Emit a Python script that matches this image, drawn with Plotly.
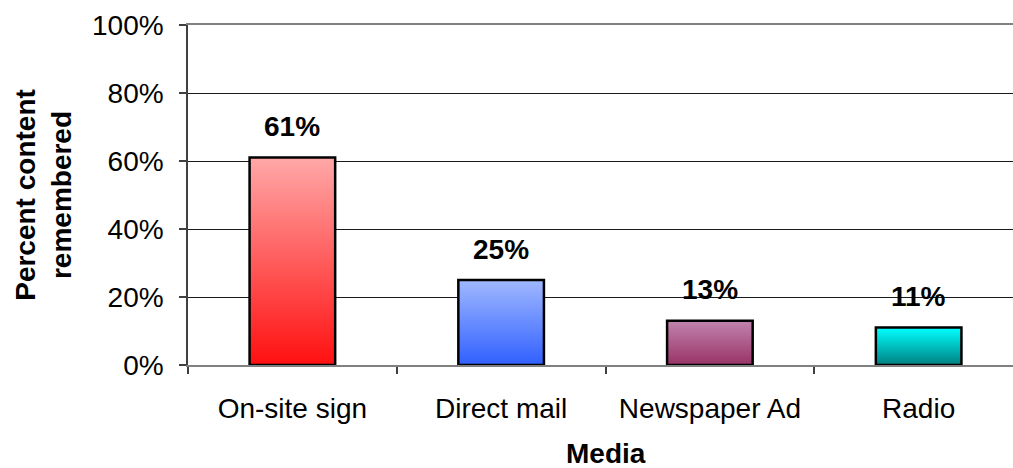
import plotly.graph_objects as go

categories = ["On-site sign", "Direct mail", "Newspaper Ad", "Radio"]
values = [61, 25, 13, 11]
value_labels = ["61%", "25%", "13%", "11%"]
top_colors = ["#FFA8A8", "#A0B8FF", "#C283AE", "#00FFFF"]
bottom_colors = ["#FF1010", "#3060FF", "#993366", "#008080"]
y_ticks = [0, 20, 40, 60, 80, 100]
y_tick_labels = ["0%", "20%", "40%", "60%", "80%", "100%"]
x_title = "Media"

FONT = "Liberation Sans, Arial, sans-serif"
bar_half = 0.205

fig = go.Figure()
for i, (cat, v) in enumerate(zip(categories, values)):
    xs = [i - bar_half, i - bar_half, i + bar_half, i + bar_half, i - bar_half]
    ys = [0, v, v, 0, 0]
    fig.add_trace(go.Scatter(
        x=xs, y=ys, mode="lines", fill="toself",
        fillgradient=dict(type="vertical",
                          colorscale=[[0, bottom_colors[i]], [1, top_colors[i]]]),
        line=dict(color="#000000", width=2.5),
        hoverinfo="skip", showlegend=False, name=cat,
    ))
    fig.add_annotation(x=i, y=v, text="<b>%s</b>" % value_labels[i],
                       showarrow=False, yshift=31, yanchor="middle",
                       font=dict(family=FONT, size=28, color="#000000"))

# x-axis title placed below the category labels
fig.add_annotation(x=0.5 * (-0.5 + 3.5), xref="x", y=0, yref="paper",
                   text="<b>%s</b>" % x_title, showarrow=False,
                   yanchor="middle", yshift=-88, borderpad=0,
                   font=dict(family=FONT, size=28, color="#000000"))

fig.update_layout(
    width=1013, height=468,
    margin=dict(l=188, r=0, t=25, b=103, autoexpand=False),
    paper_bgcolor="white", plot_bgcolor="white",
    font=dict(family=FONT, size=28, color="#000000"),
    showlegend=False,
    xaxis=dict(
        range=[-0.5, 3.452],
        tickmode="array", tickvals=list(range(len(categories))), ticktext=categories,
        ticks="", showgrid=False, zeroline=False,
        showline=True, linecolor="#808080", linewidth=2, mirror=True,
        tickfont=dict(family=FONT, size=28),
        ticklabelstandoff=17,
        minor=dict(tickmode="array", tickvals=[-0.5, 0.5, 1.5, 2.5],
                   ticks="outside", ticklen=7, tickcolor="#404040", tickwidth=1.5,
                   showgrid=False),
    ),
    yaxis=dict(
        range=[0, 100],
        tickmode="array", tickvals=y_ticks, ticktext=y_tick_labels,
        ticks="outside", ticklen=7, tickcolor="#404040", tickwidth=1.5,
        showgrid=True, gridcolor="#1a1a1a", gridwidth=1,
        zeroline=False,
        showline=True, linecolor="#404040", linewidth=1.5,
        tickfont=dict(family=FONT, size=28),
        ticklabelstandoff=10,
        title=dict(text="<b>Percent content<br>remembered</b>",
                   font=dict(family=FONT, size=28), standoff=12),
    ),
)

fig.write_html("out.html", config={"displayModeBar": False},
               post_script="document.body.style.margin='0';document.body.style.padding='0';document.body.style.overflow='hidden';")
